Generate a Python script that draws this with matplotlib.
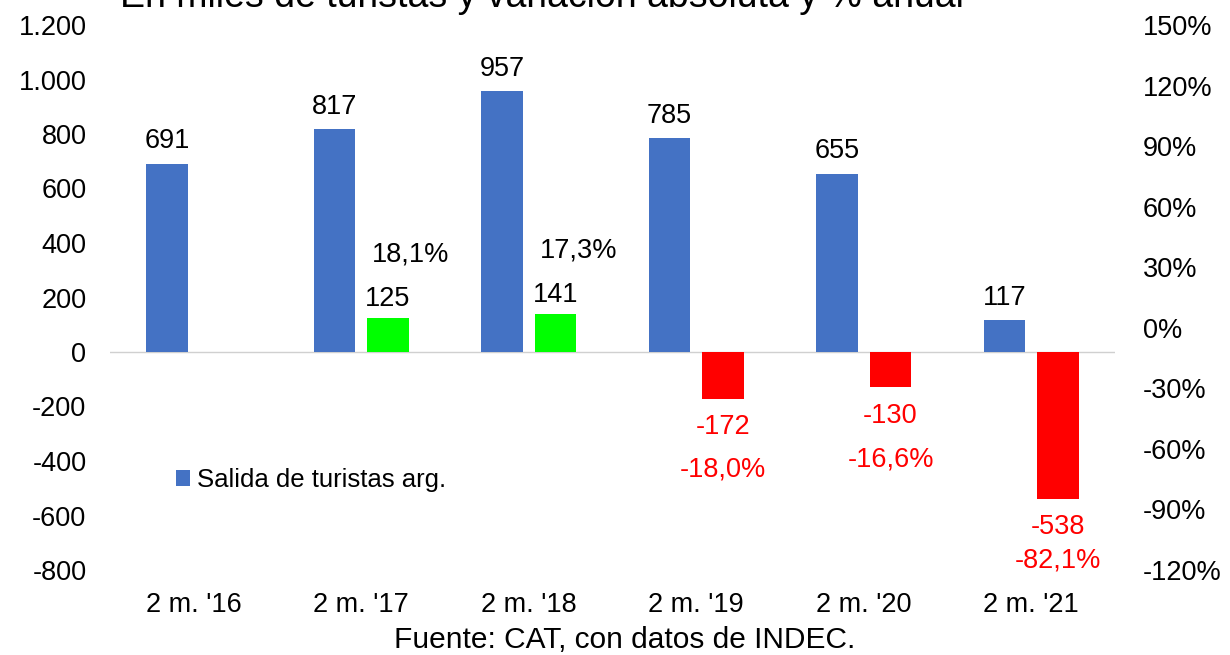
import numpy as np
import matplotlib
matplotlib.use("Agg")
import matplotlib.pyplot as plt

plt.rcParams['font.family'] = ['Liberation Sans', 'DejaVu Sans']

# data
categorias = ["2 m. '16", "2 m. '17", "2 m. '18", "2 m. '19", "2 m. '20", "2 m. '21"]
salida = [691, 817, 957, 785, 655, 117]
variacion = [np.nan, 125, 141, -172, -130, -538]
variacion_pct = [np.nan, 18.1, 17.3, -18.0, -16.6, -82.1]
pct_offsets = [0, 45.5, 45.5, -51, -52, -44.5]   # label offsets in points

azul = '#4472C4'
verde = '#00FF00'
rojo = '#FF0000'
fs = 19.5

fig = plt.figure(figsize=(12.3, 6.55), dpi=100)
ax = fig.add_axes([110/1230, 1 - 570/655, 1005/1230, 545/655])
ax2 = ax.twinx()

x = np.arange(len(categorias))
w = 0.25
off = 0.16

ax.bar(x - off, salida, w, color=azul, label='Salida de turistas arg.', zorder=3)
colores = [verde if (v == v and v > 0) else rojo for v in variacion]
ax.bar(x + off, variacion, w, color=colores, zorder=3)

ax.set_xlim(-0.5, 5.5)
ax.set_ylim(-800, 1200)
ax2.set_ylim(-120, 150)
ax.set_yticks(np.arange(-800, 1201, 200))
ax.set_yticklabels([f"{v:,}".replace(',', '.') for v in range(-800, 1201, 200)])
ax2.set_yticks(np.arange(-120, 151, 30))
ax2.set_yticklabels([f"{v}%" for v in range(-120, 151, 30)])
ax.set_xticks(x)
ax.set_xticklabels(categorias)

for a in (ax, ax2):
    for s in a.spines.values():
        s.set_visible(False)
ax.tick_params(axis='both', length=0, labelsize=fs)
ax.tick_params(axis='y', pad=17)
ax.tick_params(axis='x', pad=16)
ax2.tick_params(axis='y', length=0, labelsize=fs, pad=20)

ax.axhline(0, color='#D0D0D0', lw=1, zorder=2)

for i, v in enumerate(salida):
    ax.annotate(str(v), (x[i] - off, v), xytext=(0, 16), textcoords='offset points',
                ha='center', va='center', fontsize=fs)

for i, v in enumerate(variacion):
    if v != v:
        continue
    p = variacion_pct[i]
    txt_pct = f"{p:.1f}%".replace('.', ',')
    if v > 0:
        ax.annotate(str(v), (x[i] + off, v), xytext=(0, 13.5), textcoords='offset points',
                    ha='center', va='center', fontsize=fs)
        ax.annotate(txt_pct, (x[i] + off, v), xytext=(16.5, pct_offsets[i]), textcoords='offset points',
                    ha='center', va='center', fontsize=fs)
    else:
        ax.annotate(str(v), (x[i] + off, v), xytext=(0, -20.5), textcoords='offset points',
                    ha='center', va='center', fontsize=fs, color=rojo)
        ax.annotate(txt_pct, (x[i] + off, v), xytext=(0, pct_offsets[i]), textcoords='offset points',
                    ha='center', va='center', fontsize=fs, color=rojo)

ax.legend(loc='center left', bbox_to_anchor=(0.0427, 0.165), frameon=False, fontsize=18.5,
          handlelength=0.55, handleheight=0.55, handletextpad=0.25)

fig.text(120/1230, 1 - 7/655, "En miles de turistas y variación absoluta y % anual",
         fontsize=27, ha='left', va='baseline')
fig.text(625/1230, 1 - 640/655, "Fuente: CAT, con datos de INDEC.",
         fontsize=21.5, ha='center', va='center')

fig.savefig('out.png', dpi=100)
